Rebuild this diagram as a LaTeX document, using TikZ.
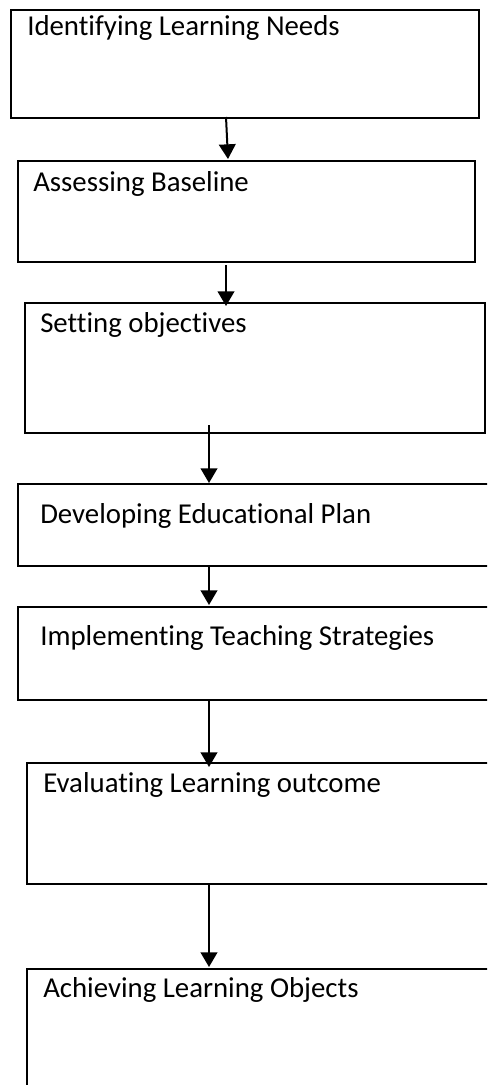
\documentclass[tikz,border=0pt]{standalone}
\usepackage{fontspec}
\setmainfont{Carlito}[Ligatures={NoCommon}]
\usetikzlibrary{positioning, arrows.meta, calc}

\begin{document}
\begin{tikzpicture}[
  x=0.75pt, y=-0.75pt,
  font=\fontsize{21.6}{26}\selectfont,
  stage/.style 2 args={
    rectangle, draw=black, line width=1.4pt,
    minimum width=#1*0.75pt, minimum height=#2*0.75pt,
    inner sep=0pt, outer sep=0pt, anchor=north west
  },
  heavy/.style={line width=2pt},
  stagelbl/.style={anchor=base west, inner sep=0pt},
  flow/.style={-{Triangle[width=12.5pt,length=11pt]}, line width=1.5pt},
]

% ---- page (pixel grid of the reference) ----
\path[use as bounding box, clip] (0,0) rectangle (487,1085);

% =====================================================
% STAGE BOXES (top-left corner, width, height)
% =====================================================
\node[stage={468}{108}] (needs) at (11,10) {};
\node[stage={457}{101}] (baseline) at (18,161) {};
\node[stage={460}{130}] (objectives) at (25,303) {};
\node[stage={482}{82}] (plan) at (18,484) {};
\node[stage={482}{93}] (strategies) at (18,607) {};
\node[stage={473}{121}, heavy] (outcome) at (27,763) {};
\node[stage={473}{131}, heavy] (achieve) at (27,969) {};

% ---- labels, set at the top left of each box ----
\node[stagelbl] (needslbl) at ($(needs.north west)+(16,26)$) {Identifying Learning Needs};
\node[stagelbl] (baselinelbl) at ($(baseline.north west)+(15,30)$) {Assessing Baseline};
\node[stagelbl] (objectiveslbl) at ($(objectives.north west)+(15,29)$) {Setting objectives};
\node[stagelbl] (planlbl) at ($(plan.north west)+(22,39)$) {Developing Educational Plan};
\node[stagelbl] (strategieslbl) at ($(strategies.north west)+(22,38)$) {Implementing Teaching Strategies};
\node[stagelbl] (outcomelbl) at ($(outcome.north west)+(16,29)$) {Evaluating Learning outcome};
\node[stagelbl] (achievelbl) at ($(achieve.north west)+(16,28)$) {Achieving Learning Objects};

% =====================================================
% FLOW ARROWS
% =====================================================
\draw[flow] ($(needs.south west)+(215,-1)$) -- ($(baseline.north west)+(210,-2)$);
\draw[flow] ($(baseline.south west)+(208,3)$) -- ($(objectives.north west)+(201,3)$);
\draw[flow] ($(objectives.south west)+(184,-8)$) -- ($(plan.north west)+(191,-1)$);
\draw[flow] ($(plan.south west)+(191,0)$) -- ($(strategies.north west)+(191,-2)$);
\draw[flow] ($(strategies.south west)+(191,0)$) -- ($(outcome.north west)+(182,4)$);
\draw[flow] ($(outcome.south west)+(182,0)$) -- ($(achieve.north west)+(182,-2)$);

\end{tikzpicture}
\end{document}
